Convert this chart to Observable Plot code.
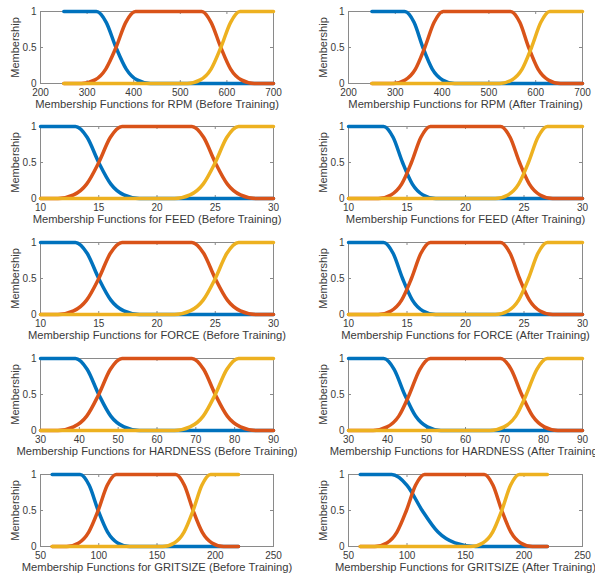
<!DOCTYPE html>
<html><head><meta charset="utf-8">
<script src="https://cdn.jsdelivr.net/npm/d3@7"></script>
<script src="https://cdn.jsdelivr.net/npm/@observablehq/plot@0.6"></script>
<style>
body{margin:0;background:#fff;}
#chart{position:relative;width:595px;height:580px;overflow:hidden;background:#fff;}
#chart > div{position:absolute;}
#chart svg{overflow:hidden;}
</style></head><body><div id="chart"></div>
<script>
const variables = ["RPM", "FEED", "FORCE", "HARDNESS", "GRITSIZE"];
const stages = ["Before Training", "After Training"];
const xDomains = [[200, 700], [10, 30], [10, 30], [30, 90], [50, 250]];
const xTicks = [
  [200, 300, 400, 500, 600, 700],
  [10, 15, 20, 25, 30],
  [10, 15, 20, 25, 30],
  [30, 40, 50, 60, 70, 80, 90],
  [50, 100, 150, 200, 250]
];
const curveRanges = [[250, 700], [10, 30], [10, 30], [30, 90], [60, 220]];
const yTicks = [0, 0.5, 1];
// membership levels at which the edge positions below were read
const levels = [1, 0.85, 0.5, 0.2, 0.05, 0];

// x positions where each edge passes the levels above (shoulder -> foot)
const blueFallBefore = [
  [320, 341, 362, 384, 407, 436],
  [13, 14, 15, 16.04, 17.16, 18.5],
  [13, 14, 15, 16.04, 17.16, 18.5],
  [39, 42, 45, 48.1, 51.5, 55.5],
  [84, 91.8, 99.5, 107.6, 116.2, 126.6]
];
const blueFallAfter = [
  [320, 340, 359, 379, 401, 427],
  [13, 13.81, 14.62, 15.46, 16.37, 17.46],
  [13, 13.81, 14.62, 15.46, 16.37, 17.46],
  [39, 41.7, 44.4, 47.2, 50.2, 53.7],
  [87, 100, 113, 126.5, 141, 158.5]
];
const orangeRiseBefore = [
  [404, 383, 362, 340, 317, 288],
  [17, 16, 15, 13.96, 12.84, 11.5],
  [17, 16, 15, 13.96, 12.84, 11.5],
  [51, 48, 45, 41.9, 38.5, 34.5],
  [115, 107.3, 99.5, 91.4, 82.8, 72.4]
];
const orangeRiseAfter = [
  [402, 383, 363, 343, 321, 295],
  [17, 16.19, 15.38, 14.54, 13.63, 12.54],
  [17, 16.19, 15.38, 14.54, 13.63, 12.54],
  [51, 48.3, 45.6, 42.9, 39.9, 36.3],
  [115, 107.3, 99.5, 91.4, 82.8, 72.4]
];
const orangeFallBefore = [
  [546, 566, 587, 608, 631, 659],
  [23, 24, 25, 26.04, 27.16, 28.5],
  [23, 24, 25, 26.04, 27.16, 28.5],
  [69, 72, 75, 78.1, 81.5, 85.5],
  [166, 173.5, 181, 188.8, 197.2, 207.3]
];
const orangeFallAfter = [
  [546, 566, 585, 605, 627, 653],
  [23, 23.81, 24.62, 25.46, 26.37, 27.46],
  [23, 23.81, 24.62, 25.46, 26.37, 27.46],
  [69, 71.7, 74.4, 77.2, 80.2, 83.7],
  [166, 173.5, 181, 188.8, 197.2, 207.3]
];
const yellowRiseBefore = [
  [628, 608, 587, 566, 543, 515],
  [27, 26, 25, 23.96, 22.84, 21.5],
  [27, 26, 25, 23.96, 22.84, 21.5],
  [81, 78, 75, 71.9, 68.5, 64.5],
  [196, 188.5, 181, 173.2, 164.8, 154.7]
];
const yellowRiseAfter = [
  [630, 611, 591, 571, 549, 523],
  [27, 26.19, 25.38, 24.54, 23.63, 22.54],
  [27, 26.19, 25.38, 24.54, 23.63, 22.54],
  [81, 78.3, 75.6, 72.9, 69.9, 66.3],
  [196, 188.5, 181, 173.2, 164.8, 154.7]
];

const colors = ["#0072BD", "#D95319", "#EDB120"];
const font = "'Liberation Sans', Arial, Helvetica, sans-serif";

function edge(xs) { return xs.map((x, i) => ({x, y: levels[i]})); }

function buildSeries(v, s) {
  const [lo, hi] = curveRanges[v];
  const bf = (s === 0 ? blueFallBefore : blueFallAfter)[v];
  const orr = (s === 0 ? orangeRiseBefore : orangeRiseAfter)[v];
  const of = (s === 0 ? orangeFallBefore : orangeFallAfter)[v];
  const yr = (s === 0 ? yellowRiseBefore : yellowRiseAfter)[v];
  const blue = [{x: lo, y: 1}, ...edge(bf), {x: hi, y: 0}];
  const orange = [{x: lo, y: 0}, ...edge(orr).reverse(), ...edge(of), {x: hi, y: 0}];
  const yellow = [{x: lo, y: 0}, ...edge(yr).reverse(), {x: hi, y: 1}];
  return [blue, orange, yellow];
}

const rowTops = [1, 116, 232, 348, 464];
const cols = [
  {left: 0, width: 297, ml: 40, mr: 24},
  {left: 297, width: 298, ml: 51, mr: 13}
];
const H = 116, MT = 10, MB = 34, innerH = H - MT - MB;
const tickLen = 3;
const axisGray = "#8a8a8a";
const textGray = "#3a3a3a";

const chart = document.getElementById("chart");
variables.forEach((name, v) => {
  stages.forEach((stage, s) => {
    const c = cols[s];
    const innerW = c.width - c.ml - c.mr;
    const series = buildSeries(v, s);
    const title = `Membership Functions for ${name} (${stage})`;
    const plot = Plot.plot({
      width: c.width, height: H,
      marginLeft: c.ml, marginRight: c.mr, marginTop: MT, marginBottom: MB,
      style: {fontFamily: font, fontSize: "10px", color: textGray, background: "white", overflow: "hidden"},
      x: {domain: xDomains[v]},
      y: {domain: [0, 1]},
      marks: [
        Plot.frame({stroke: axisGray, strokeWidth: 1}),
        Plot.ruleX(xTicks[v], {x: d => d, insetTop: innerH - tickLen, stroke: axisGray}),
        Plot.ruleX(xTicks[v], {x: d => d, insetBottom: innerH - tickLen, stroke: axisGray}),
        Plot.ruleY(yTicks, {y: d => d, insetRight: innerW - tickLen, stroke: axisGray}),
        Plot.ruleY(yTicks, {y: d => d, insetLeft: innerW - tickLen, stroke: axisGray}),
        Plot.axisX(xTicks[v], {tickSize: 0, tickPadding: 5, label: null, tickFormat: d => String(d), fill: textGray}),
        Plot.axisY(yTicks, {tickSize: 0, tickPadding: 4, label: null, tickFormat: d => String(d), fill: textGray}),
        ...series.map((data, i) => Plot.line(data, {x: "x", y: "y", stroke: colors[i], strokeWidth: 3.5, curve: "monotone-x"})),
        Plot.text([title], {frameAnchor: "bottom", dy: 24, text: d => d, fontSize: 11.2, fill: textGray, textAnchor: "middle"}),
        Plot.text(["Membership"], {frameAnchor: "left", dx: -25.5, rotate: -90, text: d => d, fontSize: 11, fill: textGray, textAnchor: "middle"})
      ]
    });
    const wrap = document.createElement("div");
    wrap.style.left = c.left + "px";
    wrap.style.top = rowTops[v] + "px";
    wrap.style.width = c.width + "px";
    wrap.style.height = H + "px";
    wrap.appendChild(plot);
    chart.appendChild(wrap);
  });
});
</script>
</body></html>
